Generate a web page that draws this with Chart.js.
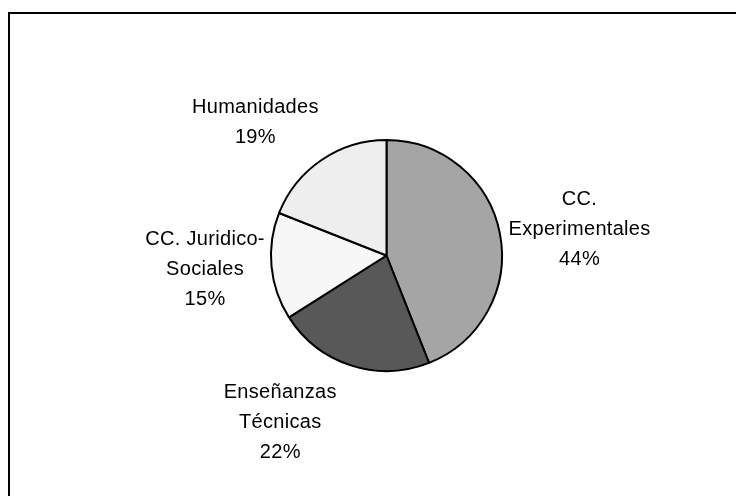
<!DOCTYPE html>
<html>
<head>
<meta charset="utf-8">
<script src="https://cdn.jsdelivr.net/npm/chart.js@4"></script>
<style>
    html, body { margin: 0; padding: 0; background: #fff; }
    #wrap { position: relative; width: 736px; height: 496px; }
    #frame {
        position: absolute; left: 8px; top: 12px; right: 0; bottom: 0;
        border-top: 2px solid #000; border-left: 2px solid #000;
    }
    canvas { position: absolute; left: 0; top: 0; }
</style>
</head>
<body>
<div id="wrap">
    <div id="frame"></div>
    <canvas id="pieChart" width="736" height="496"></canvas>
</div>
<script>
// data
const categories = [['CC.', 'Experimentales'], ['Enseñanzas', 'Técnicas'], ['CC. Juridico-', 'Sociales'], ['Humanidades']];
const shares = [44, 22, 15, 19];
const sliceColors = ['#a5a5a5', '#585858', '#f7f7f7', '#eeeeee'];
// small hand nudges so labels sit where Excel put them
const labelNudge = [[0, 3], [-50, 11], [3, -3], [-25, -13]];

const labelFont = '20px "Liberation Sans", Arial, sans-serif';
const lineH = 30;
const capH = 14;

const outsideLabels = {
    id: 'outsideLabels',
    afterDatasetsDraw(chart) {
        const ctx = chart.ctx;
        const meta = chart.getDatasetMeta(0);
        const total = shares.reduce((a, b) => a + b, 0);
        ctx.save();
        ctx.font = labelFont;
        ctx.fillStyle = '#000';
        ctx.textAlign = 'center';
        ctx.textBaseline = 'alphabetic';
        if ('letterSpacing' in ctx) ctx.letterSpacing = '0.3px';
        meta.data.forEach((arc, i) => {
            const p = arc.getProps(['x', 'y', 'startAngle', 'endAngle', 'outerRadius'], true);
            const mid = (p.startAngle + p.endAngle) / 2;
            const cos = Math.cos(mid), sin = Math.sin(mid);
            const lines = categories[i].concat([Math.round(shares[i] / total * 100) + '%']);
            const w = Math.max(...lines.map(l => ctx.measureText(l).width));
            const h = (lines.length - 1) * lineH + capH;
            const d = p.outerRadius + 10;
            const cx = p.x + cos * (d + w / 2) + labelNudge[i][0];
            const cy = p.y + sin * (d + h / 2) + labelNudge[i][1];
            let base = cy - h / 2 + capH;
            lines.forEach(l => {
                ctx.fillText(l, cx, base);
                base += lineH;
            });
        });
        ctx.restore();
    }
};

new Chart(document.getElementById('pieChart').getContext('2d'), {
    type: 'pie',
    data: {
        labels: categories,
        datasets: [{
            data: shares,
            backgroundColor: sliceColors,
            borderColor: '#000',
            borderWidth: 2
        }]
    },
    options: {
        responsive: false,
        animation: false,
        layout: { padding: { top: 139, bottom: 124, left: 270, right: 233 } },
        plugins: {
            legend: { display: false },
            tooltip: { enabled: false }
        }
    },
    plugins: [outsideLabels]
});
</script>
</body>
</html>
